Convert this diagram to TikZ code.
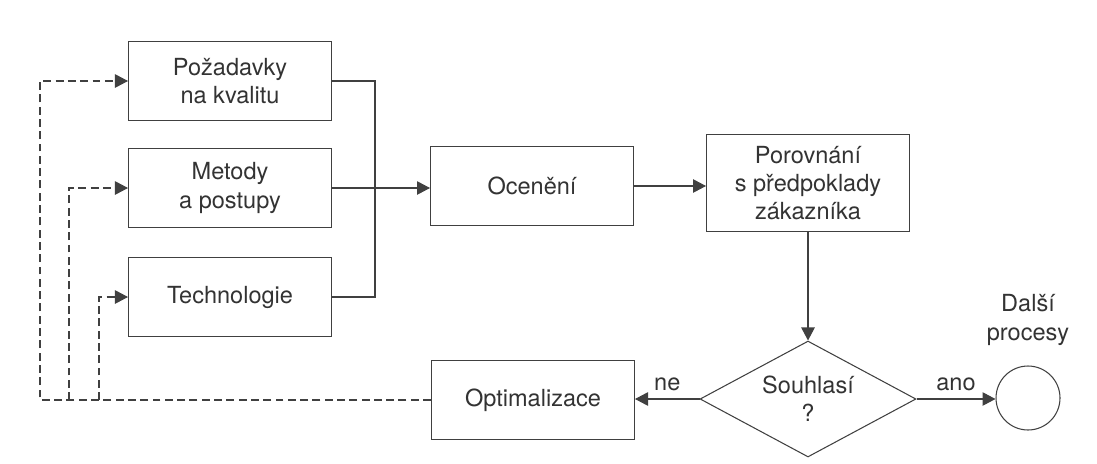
\documentclass[tikz,border=0pt]{standalone}
\usepackage{fontspec}
\setmainfont{TeX Gyre Heros}
\usetikzlibrary{shapes.geometric,arrows.meta}
\begin{document}
\begin{tikzpicture}[x=0.02cm,y=-0.02cm,
    every node/.style={font=\fontsize{13.4}{16}\selectfont, text=black!80},
    box/.style={draw=black!75, line width=0.6pt, minimum width=4.06cm, minimum height=1.58cm, align=center},
    link/.style={draw=black!75, line width=0.6pt},
    arr/.style={link, -{Triangle[length=0.26cm,width=0.27cm]}, black!75},
    back/.style={arr, dash pattern=on 4.5pt off 2.5pt}]
    \useasboundingbox (0,0) rectangle (1097,463);
    \node[box] (req) at (230,81) {Požadavky\\na kvalitu};
    \node[box] (meth) at (230,188) {Metody\\a postupy};
    \node[box] (tech) at (230,297) {Technologie};
    \node[box] (eval) at (532,186) {Ocenění};
    \node[box, minimum height=1.94cm] (cmp) at (808,183) {Porovnání\\s předpoklady\\zákazníka};
    \node[shape=diamond, shape aspect=2, draw=black!75, line width=0.6pt, inner sep=0pt, minimum width=4.32cm, minimum height=2.32cm, align=center] (agree) at (808,399) {Souhlasí\\?};
    \node[box] (opt) at (533,400) {Optimalizace};
    \node[shape=circle, draw=black!75, line width=0.6pt, minimum size=1.28cm, inner sep=0pt] (end) at (1028,398) {};
    \node[align=center] (endlabel) at (1028,320) {Další\\procesy};
    \coordinate (bus) at (375,188);
    \coordinate (fb1) at (40,400);
    \coordinate (fb2) at (69,400);
    \coordinate (fb3) at (99,400);
    \draw[link] (req.east) -| (bus) |- (tech.east);
    \draw[arr] (meth.east) -- (meth.east -| eval.west);
    \draw[arr] (eval.east) -- (eval.east -| cmp.west);
    \draw[arr] (cmp.south) -- (agree.north);
    \draw[arr] (agree.west) -- node[above=1pt] {ne} (agree.west -| opt.east);
    \draw[arr] (agree.east) -- node[above=1pt] {ano} (agree.east -| end.west);
    \draw[back] (opt.west) -- (fb1) |- (req.west);
    \draw[back] (fb2) |- (meth.west);
    \draw[back] (fb3) |- (tech.west);
\end{tikzpicture}
\end{document}
